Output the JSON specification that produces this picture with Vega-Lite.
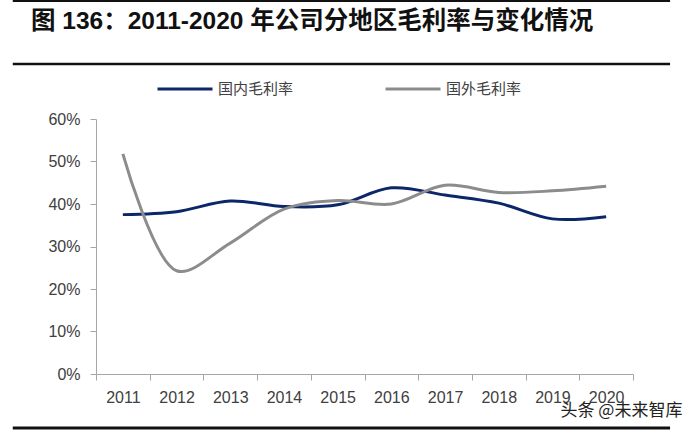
{
  "$schema": "https://vega.github.io/schema/vega-lite/v6.json",
  "width": 537,
  "height": 255,
  "autosize": "none",
  "padding": {"left": 96, "top": 119, "right": 67, "bottom": 57},
  "background": "#ffffff",
  "config": {"view": {"stroke": null}, "font": "Liberation Sans, Noto Sans CJK SC"},
  "title": {
    "text": "图 136：2011-2020 年公司分地区毛利率与变化情况",
    "anchor": "start",
    "frame": "group",
    "dx": -65,
    "dy": 50,
    "baseline": "middle",
    "fontSize": 24.5,
    "fontWeight": "bold",
    "color": "#111111",
    "font": "Liberation Sans, Noto Sans CJK SC"
  },
  "resolve": {"scale": {"x": "independent"}},
  "datasets": {
    "rates": [
      {"year": "2011", "series": "国内毛利率", "rate": 0.375},
      {"year": "2012", "series": "国内毛利率", "rate": 0.382},
      {"year": "2013", "series": "国内毛利率", "rate": 0.407},
      {"year": "2014", "series": "国内毛利率", "rate": 0.394},
      {"year": "2015", "series": "国内毛利率", "rate": 0.398},
      {"year": "2016", "series": "国内毛利率", "rate": 0.438},
      {"year": "2017", "series": "国内毛利率", "rate": 0.421},
      {"year": "2018", "series": "国内毛利率", "rate": 0.402},
      {"year": "2019", "series": "国内毛利率", "rate": 0.365},
      {"year": "2020", "series": "国内毛利率", "rate": 0.370},
      {"year": "2011", "series": "国外毛利率", "rate": 0.518},
      {"year": "2012", "series": "国外毛利率", "rate": 0.243},
      {"year": "2013", "series": "国外毛利率", "rate": 0.308},
      {"year": "2014", "series": "国外毛利率", "rate": 0.388},
      {"year": "2015", "series": "国外毛利率", "rate": 0.408},
      {"year": "2016", "series": "国外毛利率", "rate": 0.400},
      {"year": "2017", "series": "国外毛利率", "rate": 0.444},
      {"year": "2018", "series": "国外毛利率", "rate": 0.427},
      {"year": "2019", "series": "国外毛利率", "rate": 0.431},
      {"year": "2020", "series": "国外毛利率", "rate": 0.442}
    ]
  },
  "layer": [
    {
      "data": {"values": [{}]},
      "mark": {"type": "rule", "color": "#111111", "strokeWidth": 2, "clip": false},
      "encoding": {
        "x": {"datum": -0.155, "type": "quantitative", "scale": {"domain": [0, 1], "nice": false, "zero": false}, "axis": null},
        "x2": {"datum": 1.069},
        "y": {"datum": 0.8776, "type": "quantitative"}
      }
    },
    {
      "data": {"values": [{}]},
      "mark": {"type": "rule", "color": "#111111", "strokeWidth": 2.5, "clip": false},
      "encoding": {
        "x": {"datum": -0.155, "type": "quantitative", "scale": {"domain": [0, 1], "nice": false, "zero": false}, "axis": null},
        "x2": {"datum": 1.069},
        "y": {"datum": 0.7294, "type": "quantitative"}
      }
    },
    {
      "data": {"values": [{}]},
      "mark": {"type": "rule", "color": "#111111", "strokeWidth": 3, "clip": false},
      "encoding": {
        "x": {"datum": -0.155, "type": "quantitative", "scale": {"domain": [0, 1], "nice": false, "zero": false}, "axis": null},
        "x2": {"datum": 1.069},
        "y": {"datum": -0.127, "type": "quantitative"}
      }
    },
    {
      "data": {"name": "rates"},
      "mark": {"type": "line", "interpolate": "catmull-rom", "strokeWidth": 3},
      "encoding": {
        "x": {
          "field": "year",
          "type": "ordinal",
          "scale": {"type": "band", "paddingInner": 0, "paddingOuter": 0},
          "axis": {
            "title": "头条 @未来智库",
            "tickBand": "extent",
            "labelAngle": 0,
            "labelFontSize": 16,
            "labelColor": "#404040",
            "labelPadding": 9,
            "domainColor": "#a6a6a6",
            "tickColor": "#a6a6a6",
            "tickSize": 6,
            "titleX": 464,
            "titleY": 36,
            "titleAlign": "left",
            "titleBaseline": "middle",
            "titleFontSize": 17,
            "titleFontWeight": "normal",
            "titleColor": "#222222",
            "titleFont": "Noto Sans CJK SC"
          }
        },
        "y": {
          "field": "rate",
          "type": "quantitative",
          "scale": {"domain": [0, 0.6], "nice": false, "zero": false},
          "axis": {
            "title": null,
            "format": ".0%",
            "values": [0, 0.1, 0.2, 0.3, 0.4, 0.5, 0.6],
            "grid": false,
            "domainColor": "#a6a6a6",
            "tickColor": "#a6a6a6",
            "tickSize": 6,
            "labelFontSize": 16,
            "labelColor": "#404040",
            "labelPadding": 10
          }
        },
        "color": {
          "field": "series",
          "type": "nominal",
          "scale": {"domain": ["国内毛利率", "国外毛利率"], "range": ["#0b2769", "#8c8c8c"]},
          "legend": {
            "orient": "none",
            "legendX": 60,
            "legendY": -59,
            "direction": "horizontal",
            "title": null,
            "symbolType": "stroke",
            "symbolSize": 3025,
            "symbolStrokeWidth": 3,
            "labelFontSize": 15,
            "labelColor": "#404040",
            "labelFont": "Noto Sans CJK SC",
            "labelOffset": 4,
            "columnPadding": 85
          }
        }
      }
    }
  ]
}
